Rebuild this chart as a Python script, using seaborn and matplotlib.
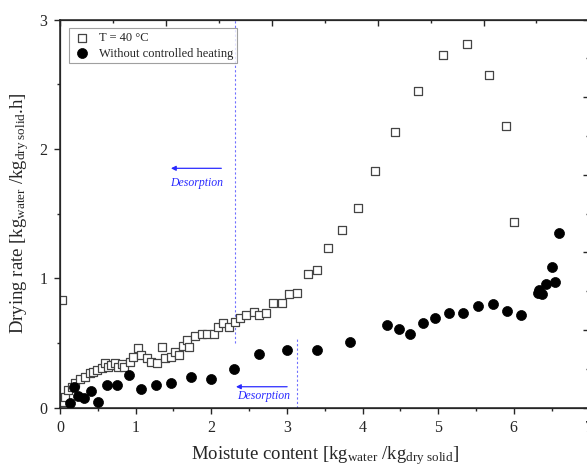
import matplotlib
matplotlib.use("Agg")
import matplotlib.pyplot as plt
from matplotlib.ticker import MultipleLocator
import seaborn as sns
import pandas as pd

# T = 40 C series (open squares)
x_40 = [0.026, 0.044, 0.066, 0.11, 0.154, 0.2, 0.26, 0.33, 0.4, 0.44, 0.485,
        0.55, 0.595, 0.64, 0.68, 0.727, 0.77, 0.816, 0.84, 0.926, 0.97, 1.03,
        1.07, 1.147, 1.204, 1.28, 1.345, 1.39, 1.468, 1.52, 1.574, 1.63, 1.676,
        1.7, 1.786, 1.874, 1.95, 2.03, 2.095, 2.16, 2.24, 2.315, 2.38, 2.46,
        2.56, 2.63, 2.725, 2.82, 2.93, 3.03, 3.14, 3.276, 3.404, 3.55, 3.726,
        3.94, 4.167, 4.43, 4.73, 5.066, 5.38, 5.666, 5.895, 6.005]
y_40 = [0.83, 0.046, 0.085, 0.137, 0.162, 0.193, 0.219, 0.24, 0.266, 0.278, 0.29,
        0.304, 0.343, 0.317, 0.33, 0.343, 0.317, 0.338, 0.317, 0.355, 0.394, 0.459,
        0.407, 0.382, 0.355, 0.343, 0.471, 0.382, 0.394, 0.433, 0.407, 0.479, 0.523,
        0.471, 0.554, 0.57, 0.57, 0.57, 0.626, 0.652, 0.626, 0.662, 0.69, 0.716,
        0.742, 0.716, 0.734, 0.811, 0.811, 0.879, 0.889, 1.031, 1.064, 1.232, 1.373,
        1.546, 1.83, 2.133, 2.447, 2.726, 2.808, 2.571, 2.177, 1.437]

# without controlled heating (filled circles)
x_nc = [0.128, 0.185, 0.24, 0.317, 0.41, 0.507, 0.626, 0.754, 0.917, 1.076,
        1.266, 1.473, 1.729, 1.997, 2.297, 2.632, 2.998, 3.404, 3.84, 4.33,
        4.48, 4.626, 4.797, 4.96, 5.15, 5.327, 5.53, 5.727, 5.917, 6.094,
        6.314, 6.336, 6.376, 6.429, 6.539, 6.504, 6.6]
y_nc = [0.034, 0.158, 0.093, 0.077, 0.131, 0.046, 0.175, 0.175, 0.253, 0.145,
        0.175, 0.193, 0.24, 0.224, 0.301, 0.417, 0.448, 0.446, 0.51, 0.639,
        0.608, 0.572, 0.652, 0.69, 0.734, 0.734, 0.783, 0.799, 0.75, 0.716,
        0.884, 0.91, 0.879, 0.956, 0.974, 1.085, 1.352]

df_40 = pd.DataFrame({"x": x_40, "y": y_40})
df_nc = pd.DataFrame({"x": x_nc, "y": y_nc})

sns.set_style("ticks")
plt.rcParams["font.family"] = ["Liberation Serif", "DejaVu Serif"]
plt.rcParams["mathtext.fontset"] = "custom"
plt.rcParams["mathtext.rm"] = "Liberation Serif"
plt.rcParams["mathtext.it"] = "Liberation Serif:italic"

fig = plt.figure(figsize=(5.87, 4.68), dpi=100)
ax = fig.add_axes([60 / 587, 1 - 407.7 / 468, 529.4 / 587, 388.2 / 468])

sns.scatterplot(data=df_40, x="x", y="y", ax=ax, marker="s", s=34,
                facecolor="white", edgecolor="#444444", linewidth=0.9,
                label="T = 40 \u00b0C", zorder=3)
sns.scatterplot(data=df_nc, x="x", y="y", ax=ax, marker="o", s=52,
                color="black", edgecolor="black", linewidth=0.5,
                label="Without controlled heating", zorder=4)

ax.set_xlim(0, 7)
ax.set_ylim(0, 3)
ax.xaxis.set_major_locator(MultipleLocator(1))
ax.xaxis.set_minor_locator(MultipleLocator(0.5))
ax.yaxis.set_major_locator(MultipleLocator(1))
ax.yaxis.set_minor_locator(MultipleLocator(0.5))
ax.tick_params(which="major", direction="out", length=4, width=1, labelsize=11.5, pad=5)
ax.tick_params(which="minor", direction="out", length=2.5, width=1)

# dashed markers of the desorption zones
ax.plot([2.32, 2.32], [0.5, 3], ls=(0, (2, 2)), color="#7070ff", lw=0.8, zorder=1)
ax.plot([3.14, 3.14], [0, 0.535], ls=(0, (2, 2)), color="#7070ff", lw=0.8, zorder=1)

arrow = dict(arrowstyle="-|>", color="#2a2aff", lw=0.9, mutation_scale=7)
ax.annotate("", xy=(1.43, 1.85), xytext=(2.17, 1.85), arrowprops=arrow)
ax.text(1.81, 1.735, "Desorption", color="#2a2aff", fontsize=8.5,
        style="italic", ha="center", va="center")
ax.annotate("", xy=(2.29, 0.162), xytext=(3.04, 0.162), arrowprops=arrow)
ax.text(2.69, 0.093, "Desorption", color="#2a2aff", fontsize=8.5,
        style="italic", ha="center", va="center")

ax.set_xlabel(r"Moistute content [kg$_{\mathrm{water}}$ /kg$_{\mathrm{dry\ solid}}$]",
              fontsize=13.5, labelpad=6)
ax.set_ylabel(r"Drying rate [kg$_{\mathrm{water}}$ /kg$_{\mathrm{dry\ solid}}$.h]",
              fontsize=13.5, labelpad=6)

for sp in ax.spines.values():
    sp.set_linewidth(1.1)
    sp.set_color("#222222")

# unlabelled top and right scales
top = ax.twiny()
top.set_xlim(0, 5)
top.xaxis.set_major_locator(MultipleLocator(1))
top.xaxis.set_minor_locator(MultipleLocator(0.5))
top.tick_params(which="major", direction="in", length=4.5, width=1, labeltop=False)
top.tick_params(which="minor", direction="in", length=2.5, width=1)
right = ax.twinx()
right.set_ylim(0, 5)
right.yaxis.set_major_locator(MultipleLocator(1))
right.yaxis.set_minor_locator(MultipleLocator(0.5))
right.tick_params(which="major", direction="in", length=4.5, width=1, labelright=False)
right.tick_params(which="minor", direction="in", length=2.5, width=1)

leg = ax.legend(loc="upper left", bbox_to_anchor=(0.017, 0.978), fontsize=9,
                frameon=True, fancybox=False, edgecolor="#888888",
                borderpad=0.3, handletextpad=0.6, labelspacing=0.3,
                handlelength=1.5, borderaxespad=0)
leg.get_frame().set_linewidth(0.8)

fig.savefig("out.png", dpi=100)
